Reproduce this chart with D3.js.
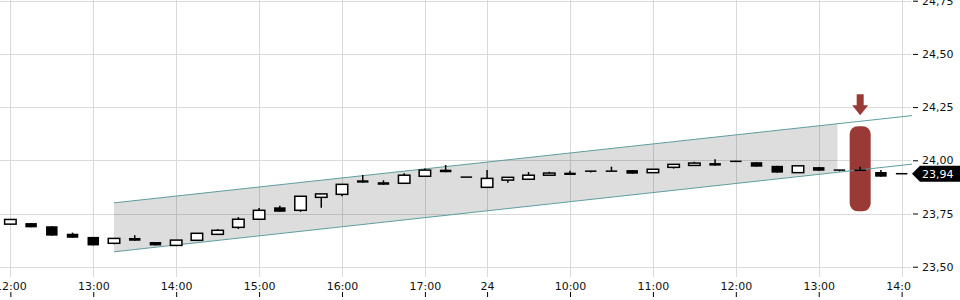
<!DOCTYPE html>
<html>
<head>
<meta charset="utf-8">
<script src="https://cdn.jsdelivr.net/npm/d3@7"></script>
<style>
  body { margin: 0; background: #fff; }
  svg { display: block; font-family: "DejaVu Sans", sans-serif; }
</style>
</head>
<body>
<script>
// 15-minute candles, day 23 12:00 .. 17:30, day 24 09:00 .. 14:00
var open  = [23.700,23.705,23.690,23.655,23.640,23.610,23.635,23.616,23.600,23.624,23.652,23.685,23.723,23.779,23.765,23.826,23.840,23.906,23.897,23.892,23.925,23.956,23.921,
             23.873,23.907,23.911,23.930,23.942,23.949,23.949,23.954,23.942,23.967,23.976,23.987,23.995,23.991,23.974,23.942,23.968,23.954,23.953,23.945,23.937];
var high  = [23.722,23.705,23.690,23.660,23.640,23.633,23.648,23.616,23.625,23.657,23.677,23.733,23.776,23.787,23.831,23.842,23.887,23.931,23.906,23.939,23.962,23.978,23.921,
             23.954,23.920,23.945,23.946,23.951,23.949,23.970,23.954,23.958,23.981,23.993,24.005,23.998,23.991,23.974,23.974,23.968,23.954,23.970,23.954,23.937];
var low   = [23.700,23.685,23.646,23.636,23.600,23.605,23.622,23.600,23.600,23.624,23.652,23.677,23.723,23.758,23.758,23.777,23.831,23.895,23.885,23.892,23.925,23.944,23.921,
             23.873,23.895,23.911,23.930,23.931,23.943,23.949,23.937,23.942,23.961,23.976,23.975,23.995,23.970,23.942,23.942,23.951,23.948,23.953,23.923,23.937];
var close = [23.722,23.685,23.646,23.636,23.600,23.633,23.622,23.600,23.625,23.657,23.671,23.723,23.765,23.758,23.831,23.842,23.887,23.895,23.885,23.930,23.954,23.944,23.921,
             23.915,23.920,23.930,23.940,23.931,23.943,23.949,23.937,23.958,23.981,23.987,23.975,23.995,23.970,23.942,23.974,23.951,23.948,23.953,23.923,23.937];

var xTickIdx    = [0, 4, 8, 12, 16, 20, 23, 27, 31, 35, 39, 43];
var xTickLabels = ["12:00","13:00","14:00","15:00","16:00","17:00","24","10:00","11:00","12:00","13:00","14:00"];
var yTicks      = [23.50, 23.75, 24.00, 24.25, 24.50, 24.75];

// trend channel (index, price)
var channelIdx   = [5, 43.5];
var channelUpper = [23.80, 24.21];
var channelLower = [23.57, 23.982];
var channelFillEnd = 40;

// signal marker
var signalIdx  = 41;
var signalHigh = 24.16;
var signalLow  = 23.76;

var w = 960, h = 300;
var plotRight = 911;

var svg = d3.select("body").append("svg")
    .attr("width", w)
    .attr("height", h);

var x = d3.scaleLinear().domain([-0.5, 43.5]).range([0, 912]);
var y = d3.scaleLinear().domain([23.5, 24.75]).range([266.7, 0.7]);

// gridlines
svg.append("g").selectAll("line")
    .data(xTickIdx)
    .enter()
    .append("line")
    .attr("x1", function(d){ return Math.round(x(d)) + 0.5; })
    .attr("x2", function(d){ return Math.round(x(d)) + 0.5; })
    .attr("y1", 0)
    .attr("y2", 277)
    .attr("stroke", "#dadada");

svg.append("g").selectAll("line")
    .data(yTicks)
    .enter()
    .append("line")
    .attr("x1", 0)
    .attr("x2", plotRight)
    .attr("y1", function(d){ return Math.round(y(d)) + 0.5; })
    .attr("y2", function(d){ return Math.round(y(d)) + 0.5; })
    .attr("stroke", "#dadada");

// channel
function lineAt(vals, i) {
    var t = (i - channelIdx[0]) / (channelIdx[1] - channelIdx[0]);
    return vals[0] + t * (vals[1] - vals[0]);
}
var fillPts = [
    [x(channelIdx[0]), y(channelUpper[0])],
    [x(channelFillEnd) - 2, y(lineAt(channelUpper, channelFillEnd - 0.1))],
    [x(channelFillEnd) - 2, y(lineAt(channelLower, channelFillEnd - 0.1))],
    [x(channelIdx[0]), y(channelLower[0])]
];
svg.append("polygon")
    .attr("points", fillPts.map(function(p){ return p.join(","); }).join(" "))
    .attr("fill", "#000")
    .attr("fill-opacity", 0.135);

// signal marker
svg.append("rect")
    .attr("x", x(signalIdx) - 10.5)
    .attr("y", y(signalHigh))
    .attr("width", 21)
    .attr("height", y(signalLow) - y(signalHigh))
    .attr("rx", 8)
    .attr("fill", "#993a36");

var ax = x(signalIdx), ay = y(signalHigh) - 11;
svg.append("polygon")
    .attr("points", [
        [ax - 3.5, ay - 21], [ax + 3.5, ay - 21], [ax + 3.5, ay - 10],
        [ax + 8, ay - 10], [ax, ay], [ax - 8, ay - 10], [ax - 3.5, ay - 10]
    ].map(function(p){ return p.join(","); }).join(" "))
    .attr("fill", "#993a36");

[channelUpper, channelLower].forEach(function(vals) {
    svg.append("line")
        .attr("x1", x(channelIdx[0]))
        .attr("y1", y(vals[0]))
        .attr("x2", x(channelIdx[1]))
        .attr("y2", y(vals[1]))
        .attr("stroke", "#5e9ea1")
        .attr("stroke-width", 1);
});

// candles
var idx = d3.range(open.length);
var candles = svg.append("g");

candles.selectAll("line.wick")
    .data(idx)
    .enter()
    .append("line")
    .attr("class", "wick")
    .attr("x1", function(i){ return x(i); })
    .attr("x2", function(i){ return x(i); })
    .attr("y1", function(i){ return y(high[i]); })
    .attr("y2", function(i){ return y(low[i]); })
    .attr("stroke", "#000")
    .attr("stroke-width", 1.5);

candles.selectAll("rect.body")
    .data(idx)
    .enter()
    .append("rect")
    .attr("class", "body")
    .attr("x", function(i){ return x(i) - 5.75; })
    .attr("width", 11.5)
    .attr("y", function(i){
        var top = y(Math.max(open[i], close[i]));
        var hh = Math.abs(y(open[i]) - y(close[i]));
        return hh < 1.5 ? top - 0.75 : top;
    })
    .attr("height", function(i){
        return Math.max(1.5, Math.abs(y(open[i]) - y(close[i])));
    })
    .attr("fill", function(i){ return close[i] > open[i] ? "#fff" : "#000"; })
    .attr("stroke", function(i){ return close[i] > open[i] ? "#000" : "none"; })
    .attr("stroke-width", 1.5);

// x axis (labels clipped at the right edge of the plot)
svg.append("clipPath").attr("id", "xclip")
    .append("rect").attr("x", 0).attr("y", 270).attr("width", plotRight).attr("height", 30);

var xAxis = svg.append("g")
    .attr("clip-path", "url(#xclip)")
    .append("g")
    .attr("transform", "translate(0,292)")
    .call(d3.axisBottom(x)
        .tickValues(xTickIdx)
        .tickFormat(function(d, i){ return xTickLabels[i]; })
        .tickSize(5));
xAxis.select(".domain").remove();
xAxis.selectAll(".tick line").attr("stroke", "#000");
xAxis.selectAll(".tick text")
    .attr("y", -2)
    .attr("dy", 0)
    .attr("fill", "#111")
    .attr("font-size", "11px")
    .attr("font-family", "DejaVu Sans, sans-serif");

// y axis
var yAxis = svg.append("g")
    .attr("transform", "translate(913,0)")
    .call(d3.axisRight(y)
        .tickValues(yTicks)
        .tickFormat(function(d){ return d.toFixed(2).replace(".", ","); })
        .tickSize(5)
        .tickPadding(4));
yAxis.select(".domain").remove();
yAxis.selectAll(".tick line").attr("stroke", "#000");
yAxis.selectAll(".tick text")
    .attr("fill", "#111")
    .attr("font-size", "11px")
    .attr("font-family", "DejaVu Sans, sans-serif");

// last price tag
var last = close[close.length - 1];
var ly = y(last);
svg.append("polygon")
    .attr("points", [[912, ly], [920, ly - 8], [960, ly - 8], [960, ly + 8], [920, ly + 8]]
        .map(function(p){ return p.join(","); }).join(" "))
    .attr("fill", "#000");
svg.append("text")
    .attr("x", 922)
    .attr("y", ly)
    .attr("dy", "0.36em")
    .attr("fill", "#fff")
    .attr("font-size", "11px")
    .text(last.toFixed(2).replace(".", ","));
</script>
</body>
</html>
